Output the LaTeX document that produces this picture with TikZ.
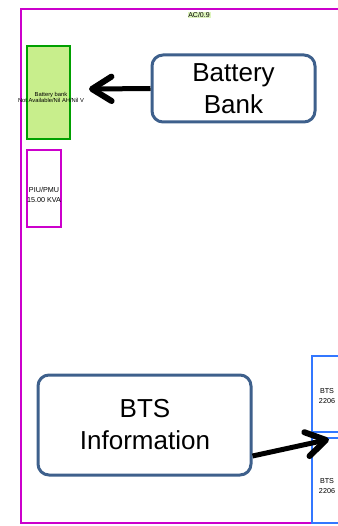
\documentclass[tikz,border=0pt]{standalone}
\usepackage{fontspec}
\setmainfont{Liberation Sans}
\usetikzlibrary{calc}
\definecolor{framemag}{RGB}{204,0,204}
\definecolor{battgreen}{RGB}{0,160,0}
\definecolor{battfill}{RGB}{200,238,140}
\definecolor{btsblue}{RGB}{51,119,255}
\definecolor{callblue}{RGB}{62,96,140}
\definecolor{tagfill}{RGB}{222,245,190}
\tikzset{
  x=1pt, y=-1pt,
  tiny/.style={font=\fontsize{5.8}{6.2}\selectfont, align=center, inner sep=0pt},
  small/.style={font=\fontsize{7.2}{9.5}\selectfont, align=center, inner sep=0pt},
  callout/.style={draw=callblue, line width=3pt, rounded corners=11pt, fill=white},
  calltext/.style={font=\fontsize{26}{32}\selectfont, align=center},
  pointer/.style={line width=5pt},
  barb/.style={line width=6pt, line join=round, line cap=round}
}
\begin{document}
\begin{tikzpicture}
\useasboundingbox (0,0) rectangle (337,526);
% equipment frame
\draw[framemag, line width=1.8pt] (345,9) -- (21,9) -- (21,523) -- (345,523);
\node[fill=tagfill, inner sep=0.8pt, font=\fontsize{7}{7}\selectfont] (tag) at (199,15) {AC/0.9};
% battery bank
\node[draw=battgreen, line width=1.2pt, fill=battfill, minimum width=43pt, minimum height=93pt, inner sep=0pt] (batt) at (48.5,92.5) {};
\node[tiny] (batttext) at (51,97.5) {Battery bank\\Not Available/Nil AH/Nil V};
% power unit
\node[draw=framemag, line width=1.2pt, minimum width=34pt, minimum height=77pt, inner sep=0pt] (piu) at (44,188.5) {};
\node[small] (piutext) at (44,195) {PIU/PMU\\15.00 KVA};
% BTS units
\draw[btsblue, line width=1.2pt] (345,356) -- (312,356) -- (312,432) -- (345,432);
\draw[btsblue, line width=1.2pt] (345,438) -- (312,438) -- (312,523) -- (345,523);
\node[small] (btsonetext) at (327,396) {BTS\\2206};
\node[small] (btstwotext) at (327,486) {BTS\\2206};
% callouts
\node[callout, minimum width=163pt, minimum height=67pt] (cbatt) at (233.5,88.5) {};
\node[calltext] (cbatttext) at (233.5,89) {Battery\\Bank};
\node[callout, minimum width=213pt, minimum height=100pt] (cbts) at (144.5,425) {};
\node[calltext] (cbtstext) at (145,425) {BTS\\Information};
% pointers with chevron heads
\coordinate (battTip) at (92,89);
\coordinate (battStart) at (cbatt.west);
\draw[pointer] (battStart) -- ($(battTip)+(3,0)$);
\draw[barb] ($(battTip)!23pt!32:(battStart)$) -- (battTip) -- ($(battTip)!23pt!-32:(battStart)$);
\coordinate (btsTip) at (326,440);
\coordinate (btsStart) at (cbts.east |- 0,456);
\draw[pointer] (btsStart) -- ($(btsTip)!3pt!(btsStart)$);
\draw[barb] ($(btsTip)!23pt!32:(btsStart)$) -- (btsTip) -- ($(btsTip)!23pt!-32:(btsStart)$);
\end{tikzpicture}
\end{document}
